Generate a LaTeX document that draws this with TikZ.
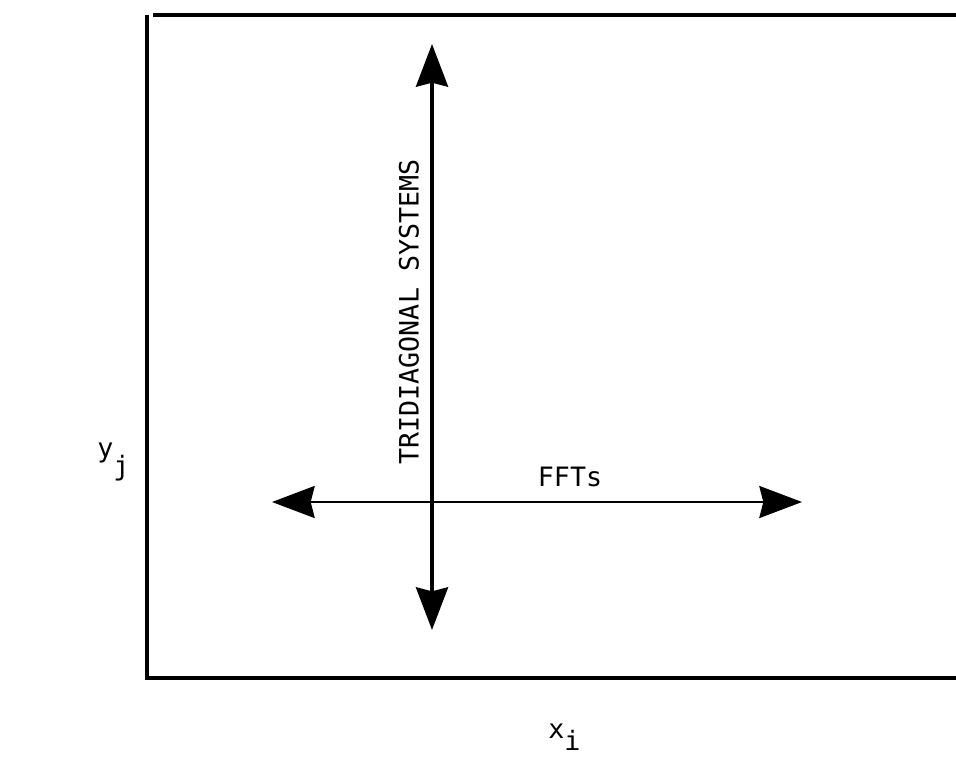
\documentclass[tikz,border=0pt]{standalone}
\usepackage{fontspec}
\usepackage{tikz}
\usetikzlibrary{arrows.meta, positioning, calc}
\newfontfamily\typefont{DejaVu Sans Mono}
\tikzset{
    framelines/.style={line width=2.6pt, black},
    sweep/.style={{Stealth[length=32pt, width=24pt, inset=3pt]}-{Stealth[length=32pt, width=24pt, inset=3pt]}, black},
    typelabel/.style={font=\typefont\fontsize{20}{24}\selectfont, inner sep=0pt}
}
\begin{document}
\begin{tikzpicture}[x=0.75pt, y=-0.75pt]
    % Background
    \useasboundingbox (0,0) rectangle (956,763);

    % Box (open on the right)
    \draw[framelines] (147,15) -- (147,678) -- (956,678);
    \draw[framelines] (153,15) -- (956,15);

    % Arrow ends
    \coordinate (tdtop) at (432,44);
    \coordinate (tdbot) at (432,630);
    \coordinate (fftleft) at (272,502);
    \coordinate (fftright) at (802,502);

    % Arrows
    \draw[sweep, line width=2.6pt] (tdbot) -- (tdtop);
    \draw[sweep, line width=1.8pt] (fftleft) -- (fftright);

    % Labels
    \node[typelabel, rotate=90] (tdlabel) at (409,312) {TRIDIAGONAL SYSTEMS};
    \node[typelabel] (fftlabel) at (570,477) {FFTs};
    \node[typelabel, anchor=north west] (ylabel) at (97,443) {y\raisebox{-0.65em}{j}};
    \node[typelabel, anchor=north west] (xlabel) at (548,724) {x\raisebox{-0.45em}{i}};
\end{tikzpicture}
\end{document}
